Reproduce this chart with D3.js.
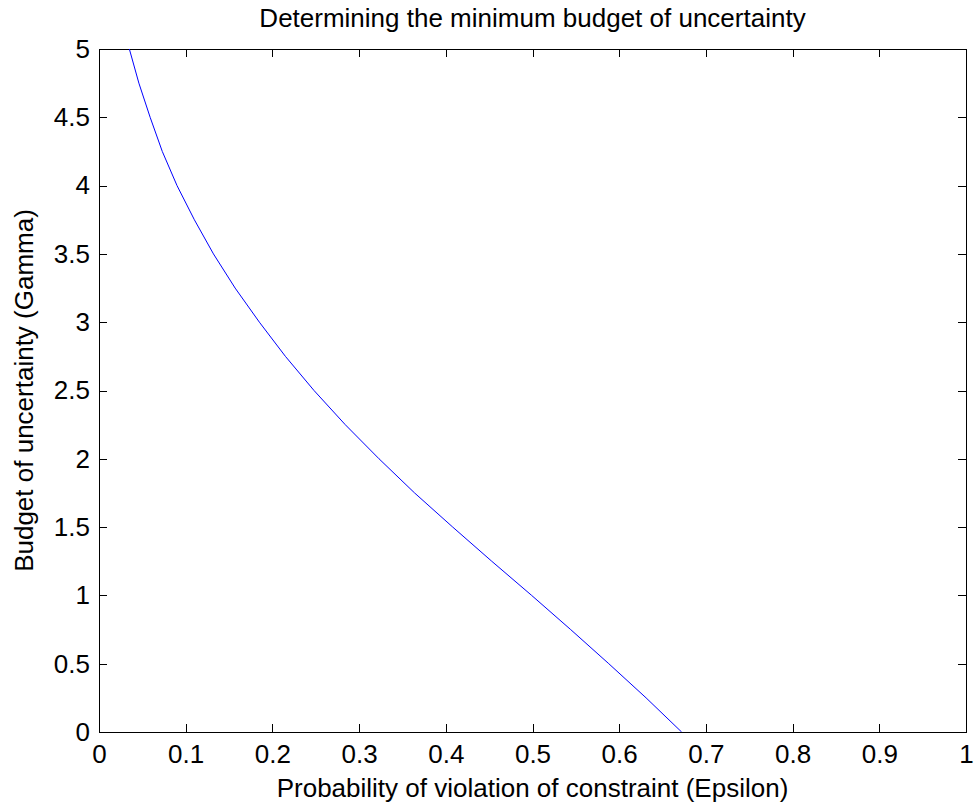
<!DOCTYPE html>
<html>
<head>
<meta charset="utf-8">
<script src="https://cdn.jsdelivr.net/npm/d3@7"></script>
<style>
  body { margin: 0; background: #fff; }
  text { font-family: "Liberation Sans", Arial, Helvetica, sans-serif; fill: #000; }
  .axis path, .axis line { stroke: #000; }
</style>
</head>
<body>
<div id="chart"></div>
<script>
// values
const gamma = [5, 4.75, 4.5, 4.25, 4, 3.75, 3.5, 3.25, 3, 2.75, 2.5, 2.25, 2, 1.75, 1.5, 1.25, 1, 0.75, 0.5, 0.25, 0];
const epsilon = [0.035, 0.046, 0.059, 0.073, 0.090, 0.110, 0.132, 0.157, 0.185, 0.215, 0.248, 0.284, 0.323, 0.364, 0.408, 0.453, 0.499, 0.544, 0.588, 0.631, 0.672];
const xTicks = [0, 0.1, 0.2, 0.3, 0.4, 0.5, 0.6, 0.7, 0.8, 0.9, 1];
const yTicks = [0, 0.5, 1, 1.5, 2, 2.5, 3, 3.5, 4, 4.5, 5];

const width = 978, height = 810;
const margin = {top: 49, right: 12, bottom: 78, left: 99};
const w = width - margin.left - margin.right;
const h = height - margin.top - margin.bottom;
const fontSize = 26;

const svg = d3.select('#chart').append('svg')
  .attr('width', width)
  .attr('height', height);

const x = d3.scaleLinear().domain([0, 1]).range([0, w]);
const y = d3.scaleLinear().domain([0, 5]).range([h, 0]);

const g = svg.append('g')
  .attr('transform', 'translate(' + margin.left + ',' + margin.top + ')');

const fmt = d => d3.format('~g')(d);

g.append('g')
  .attr('class', 'axis')
  .attr('transform', 'translate(0,' + h + ')')
  .call(d3.axisBottom(x).tickValues(xTicks).tickFormat(fmt).tickSizeInner(-8).tickSizeOuter(0).tickPadding(13));

g.append('g')
  .attr('class', 'axis')
  .call(d3.axisLeft(y).tickValues(yTicks).tickFormat(fmt).tickSizeInner(-8).tickSizeOuter(0).tickPadding(9));

// mirrored ticks on top and right (box on)
g.append('g')
  .attr('class', 'axis')
  .call(d3.axisTop(x).tickValues(xTicks).tickFormat('').tickSizeInner(-8).tickSizeOuter(0));

g.append('g')
  .attr('class', 'axis')
  .attr('transform', 'translate(' + w + ',0)')
  .call(d3.axisRight(y).tickValues(yTicks).tickFormat('').tickSizeInner(-8).tickSizeOuter(0));

g.selectAll('.axis text').attr('font-size', fontSize).style('font-family', '"Liberation Sans", Arial, sans-serif');
g.selectAll('.axis line, .axis path').attr('shape-rendering', 'crispEdges');

g.append('clipPath').attr('id', 'clip')
  .append('rect').attr('width', w).attr('height', h);

const line = d3.line()
  .x((d, i) => x(epsilon[i]))
  .y(d => y(d));

g.append('path')
  .datum(gamma)
  .attr('clip-path', 'url(#clip)')
  .attr('fill', 'none')
  .attr('stroke', '#0000ff')
  .attr('stroke-width', 1)
  .attr('d', line);

svg.append('text')
  .attr('x', margin.left + w / 2)
  .attr('y', 27)
  .attr('text-anchor', 'middle')
  .attr('font-size', fontSize)
  .text('Determining the minimum budget of uncertainty');

svg.append('text')
  .attr('x', margin.left + w / 2)
  .attr('y', 797)
  .attr('text-anchor', 'middle')
  .attr('font-size', fontSize)
  .text('Probability of violation of constraint (Epsilon)');

svg.append('text')
  .attr('transform', 'translate(33,' + (margin.top + h / 2) + ') rotate(-90)')
  .attr('text-anchor', 'middle')
  .attr('font-size', fontSize)
  .text('Budget of uncertainty (Gamma)');
</script>
</body>
</html>
